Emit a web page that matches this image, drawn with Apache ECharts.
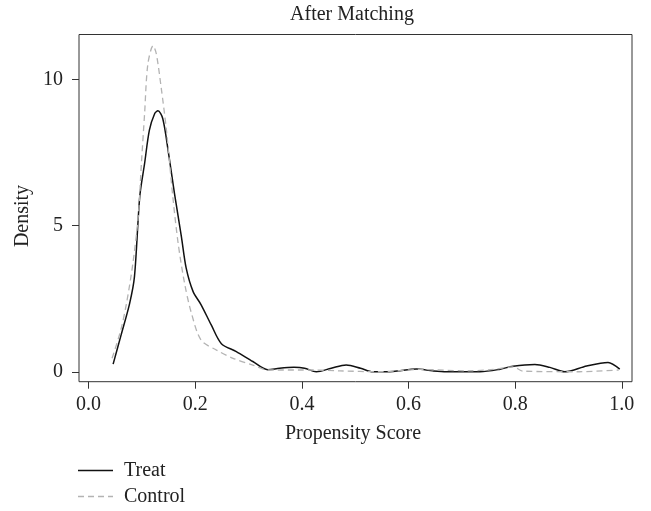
<!DOCTYPE html>
<html>
<head>
<meta charset="utf-8">
<script src="https://cdn.jsdelivr.net/npm/echarts@6/dist/echarts.min.js"></script>
<style>html,body{margin:0;padding:0;background:#fff;}#c{width:651px;height:511px;}</style>
</head>
<body>
<div id="c"></div>
<script>
var xTicks = [0, 0.2, 0.4, 0.6, 0.8, 1.0];
var yTicks = [0, 5, 10];
var legendNames = ['Treat', 'Control'];
var treatX = [0.046,0.061,0.077,0.086,0.096,0.105,0.114,0.124,0.130,0.139,0.149,0.161,0.174,0.183,0.196,0.211,0.230,0.249,0.277,0.308,0.336,0.358,0.385,0.405,0.427,0.455,0.483,0.510,0.533,0.571,0.615,0.645,0.671,0.734,0.770,0.796,0.837,0.865,0.893,0.934,0.974,0.996];
var treatY = [0.26,1.26,2.34,3.25,6.0,7.12,8.26,8.83,8.92,8.66,7.58,6.10,4.62,3.54,2.74,2.29,1.60,0.96,0.69,0.35,0.07,0.12,0.15,0.12,0.0,0.12,0.23,0.12,0.0,0.01,0.09,0.03,0.0,0.0,0.08,0.19,0.25,0.15,0.0,0.2,0.32,0.09];
var controlX = [0.044,0.060,0.071,0.083,0.093,0.099,0.105,0.111,0.121,0.127,0.136,0.146,0.158,0.168,0.180,0.193,0.211,0.240,0.271,0.308,0.336,0.396,0.421,0.471,0.546,0.621,0.711,0.760,0.796,0.815,0.920,0.994];
var controlY = [0.46,1.4,2.33,3.70,5.29,7.11,8.82,10.5,11.15,10.87,9.73,8.25,5.97,4.38,3.02,1.99,1.08,0.74,0.46,0.23,0.06,0.06,0.06,0.03,0.0,0.08,0.03,0.08,0.17,0.02,0.0,0.06];

function pairs(xs, ys){ return xs.map(function(x,i){ return [x, ys[i]]; }); }
var FONT = 'Liberation Serif';
var FS = 20;
var fontStr = FS + 'px "Liberation Serif"';
var TREAT_COLOR = '#111', CONTROL_COLOR = '#b3b3b3';
var chart = echarts.init(document.getElementById('c'), null, {renderer:'canvas'});
chart.setOption({
  animation: false,
  backgroundColor: '#fff',
  textStyle: { fontFamily: FONT, color: '#222' },
  grid: { left: 79, right: 19, top: 34.5, bottom: 129.3, show: true, borderColor: '#333', borderWidth: 1, backgroundColor: 'transparent' },
  xAxis: {
    type: 'value', min: -0.018, max: 1.019,
    axisLine: { show: false, onZero: false },
    splitLine: { show: false },
    axisTick: { show: true, length: 7, lineStyle: { color: '#333' }, customValues: xTicks },
    axisLabel: { customValues: xTicks, formatter: function(v){ return v.toFixed(1); }, fontSize: FS, fontFamily: FONT, color: '#222', margin: 13 }
  },
  yAxis: {
    type: 'value', min: -0.34, max: 11.53,
    axisLine: { show: false, onZero: false },
    splitLine: { show: false },
    axisTick: { show: true, length: 7, lineStyle: { color: '#333' }, customValues: yTicks },
    axisLabel: { customValues: yTicks, fontSize: FS, fontFamily: FONT, color: '#222', margin: 16 }
  },
  graphic: [
    { type: 'text', style: { text: 'After Matching', font: fontStr, fill: '#222', x: 352, y: 15, align: 'center', verticalAlign: 'middle' } },
    { type: 'text', style: { text: 'Propensity Score', font: fontStr, fill: '#222', x: 353, y: 434, align: 'center', verticalAlign: 'middle' } },
    { type: 'text', x: 23, y: 216, rotation: Math.PI/2, style: { text: 'Density', font: fontStr, fill: '#222', x: 0, y: 0, align: 'center', verticalAlign: 'middle' } },
    { type: 'line', shape: { x1: 78, y1: 470.5, x2: 113, y2: 470.5 }, style: { stroke: TREAT_COLOR, lineWidth: 1.5 } },
    { type: 'text', style: { text: legendNames[0], font: fontStr, fill: '#222', x: 124, y: 470.5, align: 'left', verticalAlign: 'middle' } },
    { type: 'line', shape: { x1: 78, y1: 496.5, x2: 113, y2: 496.5 }, style: { stroke: CONTROL_COLOR, lineWidth: 1.3, lineDash: [6,4] } },
    { type: 'text', style: { text: legendNames[1], font: fontStr, fill: '#222', x: 124, y: 496.5, align: 'left', verticalAlign: 'middle' } }
  ],
  series: [
    { name: legendNames[0], type: 'line', data: pairs(treatX, treatY), smooth: 0.3, symbol: 'none', lineStyle: { color: TREAT_COLOR, width: 1.5, type: 'solid' } },
    { name: legendNames[1], type: 'line', data: pairs(controlX, controlY), smooth: 0.3, symbol: 'none', lineStyle: { color: CONTROL_COLOR, width: 1.3, type: [6,4] } }
  ]
});
</script>
</body>
</html>
